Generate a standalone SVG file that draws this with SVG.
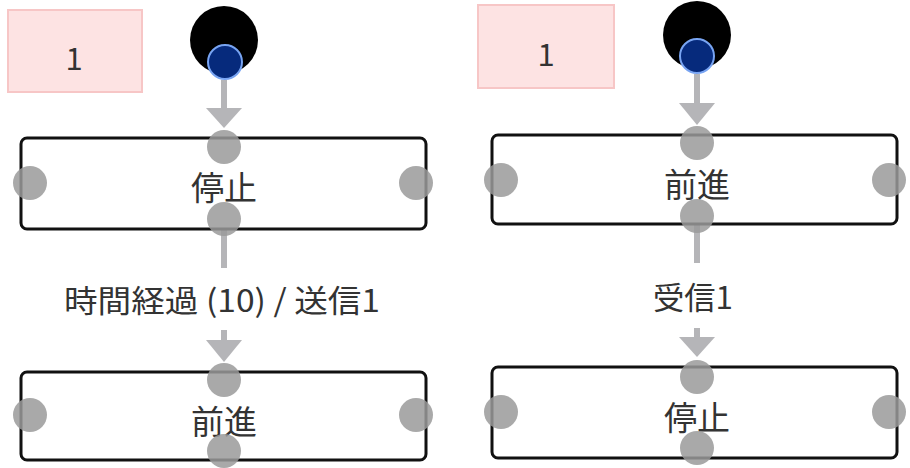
<svg xmlns="http://www.w3.org/2000/svg" width="910" height="468" viewBox="0 0 910 468">
<defs>
<style>
.t{font-family:"Noto Sans CJK JP","Noto Sans",sans-serif;fill:#333;text-anchor:middle;dominant-baseline:central}
.note{fill:#fde3e3;stroke:#f7c6c6;stroke-width:2}
.state{fill:#fff;stroke:#111;stroke-width:3}
.port{fill:#9a9a9a;fill-opacity:0.85}
.start{fill:#000}
.startport{fill:#062a7c;stroke:#78a4f2;stroke-width:2}
.edge{stroke:#b5b5b8;stroke-width:6;fill:none}
.head{fill:#b5b5b8}
</style>
</defs>
<rect width="910" height="468" fill="#fff"/>
<g id="connectors">
<path class="edge" d="M224 80V110"/>
<polygon class="head" points="206,108 242,108 224,128"/>
<path class="edge" d="M224 226V268M224 330V342"/>
<polygon class="head" points="206,340 242,340 224,362"/>
<path class="edge" d="M697 74V105"/>
<polygon class="head" points="679,103 715,103 697,125"/>
<path class="edge" d="M697 222V263M697 328V339"/>
<polygon class="head" points="679,337 715,337 697,357"/>
<text class="t" x="222" y="298" font-size="31" textLength="316" lengthAdjust="spacingAndGlyphs">時間経過 (10) / 送信1</text>
<text class="t" x="693" y="295" font-size="31" textLength="80" lengthAdjust="spacingAndGlyphs">受信1</text>
</g>
<g id="note-left">
<rect class="note" x="8" y="10" width="134" height="82"/>
<text class="t" x="74" y="56" font-size="31">1</text>
</g>
<g id="start-left">
<circle class="start" cx="224" cy="40" r="34"/>
<circle class="startport" cx="225" cy="62" r="17"/>
</g>
<g id="stop-left">
<rect class="state" x="21" y="138" width="405" height="91" rx="6"/>
<text class="t" x="224" y="186" font-size="33">停止</text>
<circle class="port" cx="224" cy="147" r="17"/>
<circle class="port" cx="30" cy="183" r="17"/>
<circle class="port" cx="416" cy="183" r="17"/>
<circle class="port" cx="224" cy="219" r="17"/>
</g>
<g id="forward-left">
<rect class="state" x="21" y="372" width="405" height="88" rx="6"/>
<text class="t" x="224" y="420" font-size="33">前進</text>
<circle class="port" cx="224" cy="380" r="17"/>
<circle class="port" cx="30" cy="415" r="17"/>
<circle class="port" cx="416" cy="415" r="17"/>
<circle class="port" cx="224" cy="451" r="17"/>
</g>
<g id="note-right">
<rect class="note" x="478" y="5" width="136" height="83"/>
<text class="t" x="546" y="52" font-size="31">1</text>
</g>
<g id="start-right">
<circle class="start" cx="697" cy="35" r="34"/>
<circle class="startport" cx="697" cy="56" r="17"/>
</g>
<g id="forward-right">
<rect class="state" x="492" y="135" width="405" height="89" rx="6"/>
<text class="t" x="697" y="183" font-size="33">前進</text>
<circle class="port" cx="697" cy="143" r="17"/>
<circle class="port" cx="501" cy="180" r="17"/>
<circle class="port" cx="889" cy="180" r="17"/>
<circle class="port" cx="697" cy="216" r="17"/>
</g>
<g id="stop-right">
<rect class="state" x="492" y="367" width="405" height="91" rx="6"/>
<text class="t" x="697" y="416" font-size="33">停止</text>
<circle class="port" cx="697" cy="377" r="17"/>
<circle class="port" cx="501" cy="412" r="17"/>
<circle class="port" cx="889" cy="412" r="17"/>
<circle class="port" cx="697" cy="448" r="17"/>
</g>
</svg>
